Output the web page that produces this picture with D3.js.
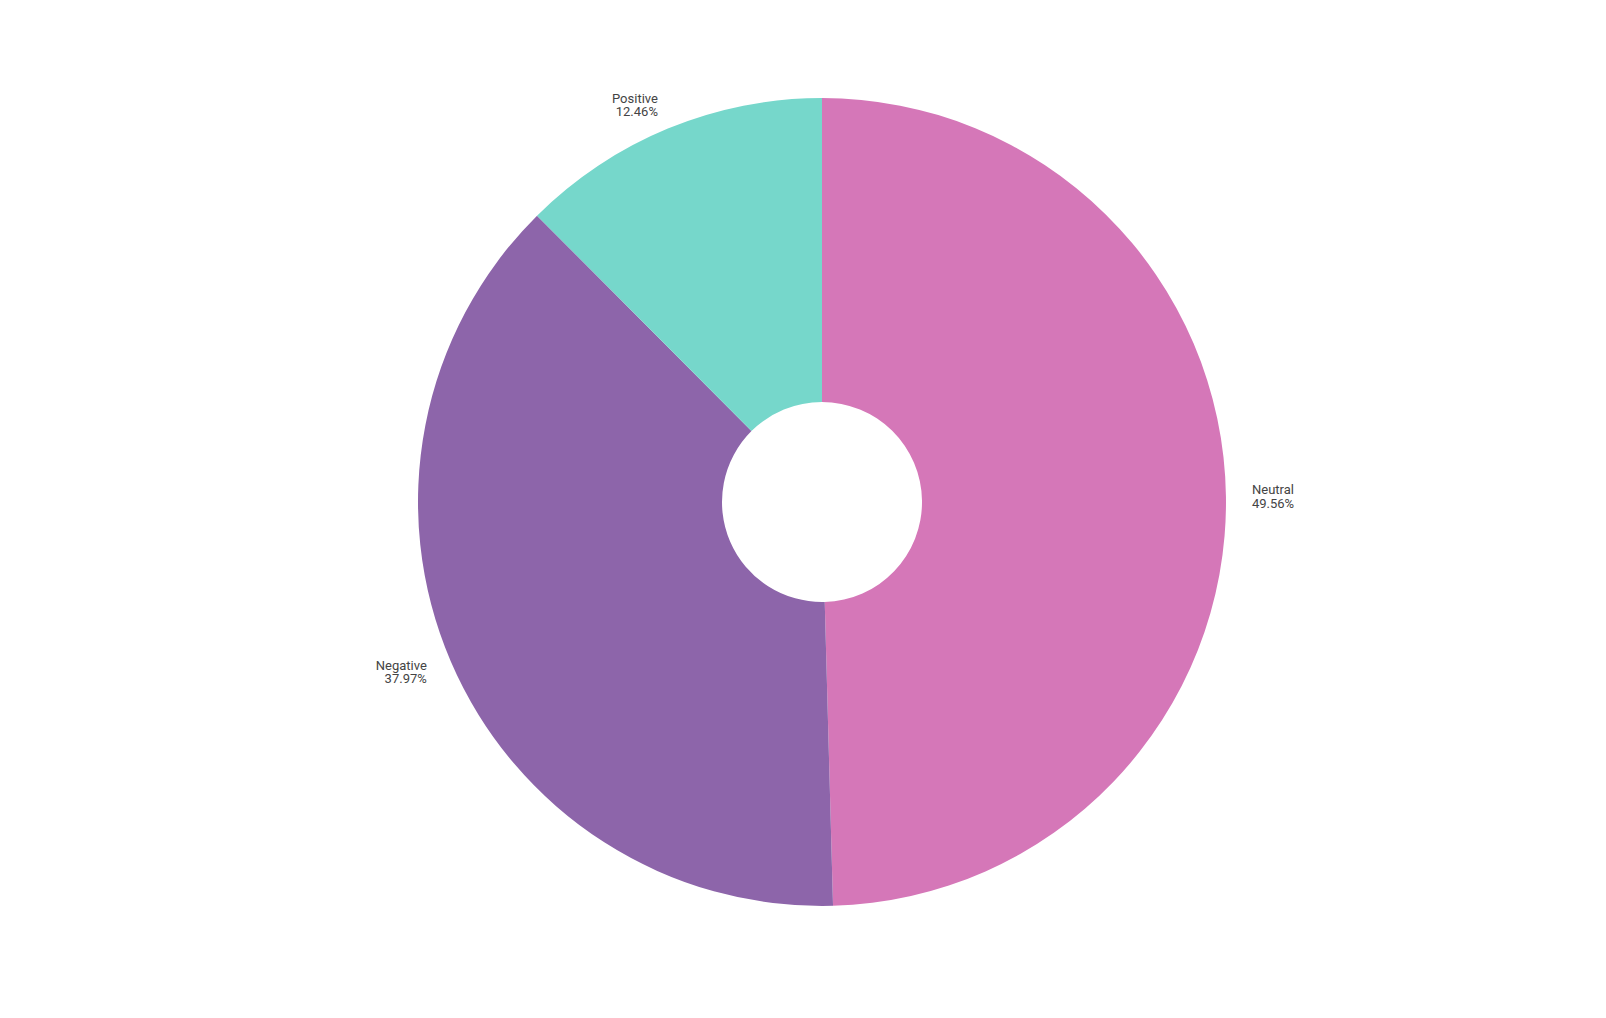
<!DOCTYPE html>
<html>
<head>
<meta charset="utf-8">
<script src="https://cdn.jsdelivr.net/npm/d3@7"></script>
<style>
body { margin: 0; background: #fff; }
text { font-family: Roboto, "Noto Sans", sans-serif; font-size: 13px; fill: #444; }
</style>
</head>
<body>
<svg id="chart" width="1606" height="1018"></svg>
<script>
// data
var categories = ["Neutral", "Negative", "Positive"]
var values = [49.56, 37.97, 12.46]
var colors = ["#d577b8", "#8d65aa", "#76d7cb"]

var svg = d3.select("#chart")
var g = svg.append("g").attr("transform", "translate(822,502)")

var pie = d3.pie().sort(null).value(d => d.v)
var arcs = pie(categories.map((c, i) => ({ c: c, v: values[i], col: colors[i] })))
var arc = d3.arc().innerRadius(100).outerRadius(404)
var labelArc = d3.arc().innerRadius(430).outerRadius(430)

g.selectAll("path")
	.data(arcs)
	.enter()
	.append("path")
	.attr("d", arc)
	.attr("fill", d => d.data.col)

var labels = g.selectAll("text.lbl")
	.data(arcs)
	.enter()
	.append("text")
	.attr("class", "lbl")
	.attr("transform", d => "translate(" + labelArc.centroid(d) + ")")
	.attr("text-anchor", d => (d.startAngle + d.endAngle) / 2 < Math.PI ? "start" : "end")
labels.append("tspan").attr("x", 0).attr("dy", "-0.15em").text(d => d.data.c)
labels.append("tspan").attr("x", 0).attr("dy", "1.05em").text(d => d.data.v.toFixed(2) + "%")
</script>
</body>
</html>
